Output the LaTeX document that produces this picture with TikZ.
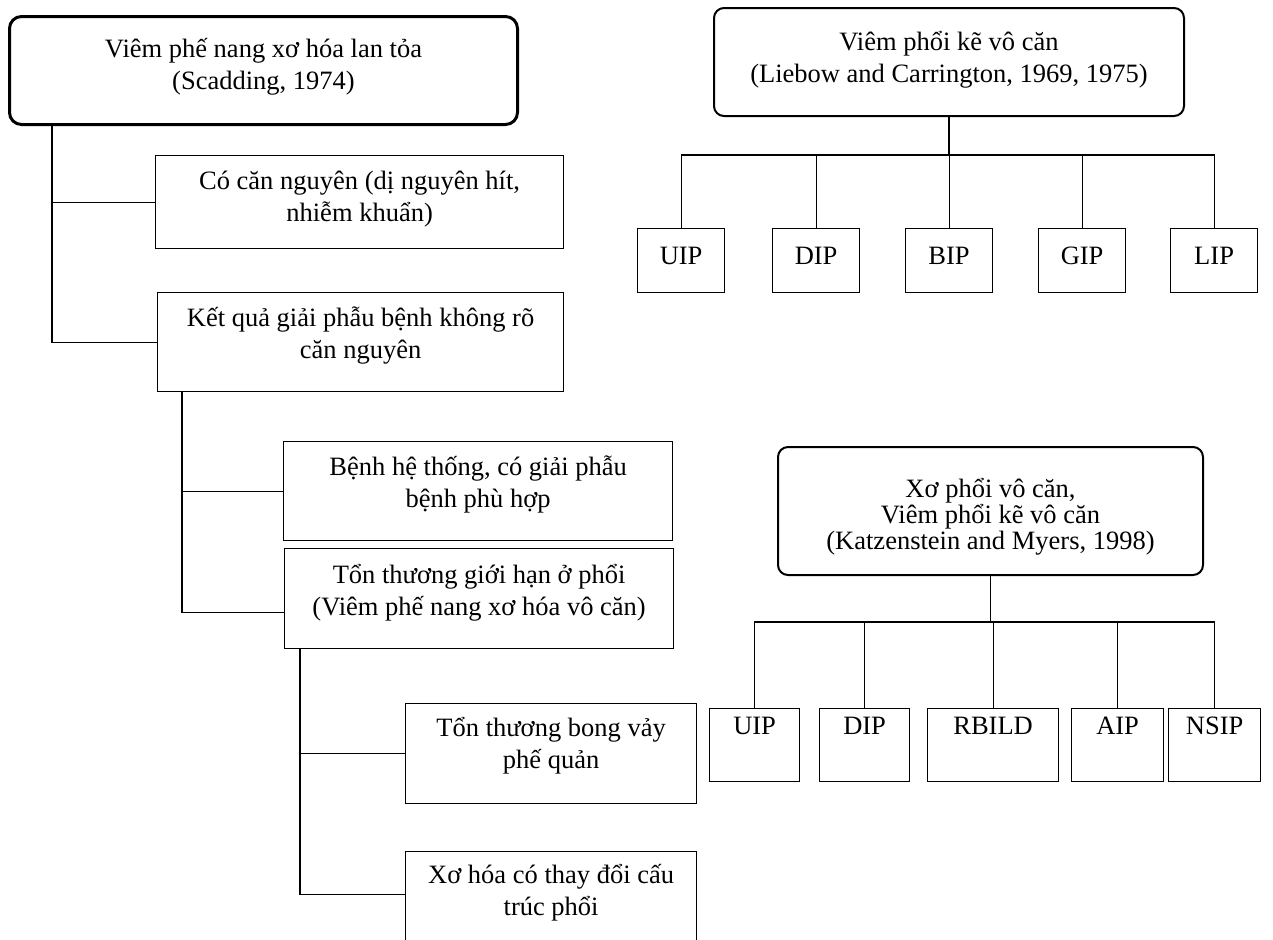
\documentclass[tikz,border=0pt]{standalone}
\usepackage{fontspec}
\setmainfont{Liberation Serif}
\usepackage{tikz}

\begin{document}
\begin{tikzpicture}[
    x=0.5pt, y=-0.5pt,
    font=\fontsize{13.25pt}{16pt}\selectfont,
    every node/.style={inner sep=0pt, align=center},
    box/.style={draw, line width=0.6pt, anchor=north west, text height=33pt, text depth=16.5pt},
    rootbox/.style={draw, rounded corners=5pt, line width=1pt, anchor=north west},
    leaf/.style={draw, line width=0.6pt, anchor=north west, minimum width=#1},
    line/.style={line width=0.6pt}
]
\useasboundingbox (0,0) rectangle (1273,939);

% Left tree: Scadding
\node[rootbox, line width=1.5pt, rounded corners=6pt, minimum width=254pt, text height=36.5pt, text depth=17.5pt] (scad) at (8,15) {Viêm phế nang xơ hóa lan tỏa\\(Scadding, 1974)};
\node[box, minimum width=204pt, text depth=13.5pt] (etio) at (155,155) {Có căn nguyên (dị nguyên hít,\\nhiễm khuẩn)};
\node[box, minimum width=203pt] (unk) at (157,292) {Kết quả giải phẫu bệnh không rõ\\căn nguyên};
\node[box, minimum width=194.5pt] (sys) at (283,441) {Bệnh hệ thống, có giải phẫu\\bệnh phù hợp};
\node[box, minimum width=194.5pt, text height=33.5pt] (lung) at (284,548) {Tổn thương giới hạn ở phổi\\(Viêm phế nang xơ hóa vô căn)};
\node[box, minimum width=145.5pt, text height=32.5pt, text depth=17.5pt] (desq) at (405,703) {Tổn thương bong vảy\\phế quản};
\node[box, minimum width=145.5pt, text height=32pt, text depth=18pt] (fibr) at (405,851) {Xơ hóa có thay đổi cấu\\trúc phổi};

\draw[line] ([xshift=22pt]scad.south west) |- (etio.west);
\draw[line] ([xshift=22pt]scad.south west) |- (unk.west);
\draw[line] ([xshift=12.5pt]unk.south west) |- (sys.west);
\draw[line] ([xshift=12.5pt]unk.south west) |- ([yshift=-7pt]lung.west);
\draw[line] ([xshift=8pt]lung.south west) |- (desq.west);
\draw[line] ([xshift=8pt]lung.south west) |- ([yshift=3.5pt]fibr.west);

% Top right: Liebow and Carrington
\node[rootbox, minimum width=235pt, text height=37pt, text depth=17pt] (lieb) at (713,7) {Viêm phổi kẽ vô căn\\(Liebow and Carrington, 1969, 1975)};
\coordinate (bus1) at ([yshift=-19pt]lieb.south);
\foreach \name/\x/\txt in {uipa/637/UIP, dipa/772/DIP, bipa/905/BIP, gipa/1038/GIP, lipa/1170/LIP}
  \node[leaf=43.5pt, text height=18pt, text depth=14pt] (\name) at (\x,228) {\txt};
\draw[line] (lieb.south) -- (bus1);
\foreach \name in {uipa,dipa,bipa,gipa,lipa}
  \draw[line] (bus1) -| (\name.north);

% Bottom right: Katzenstein and Myers
\node[rootbox, minimum width=212.5pt, text height=51pt, text depth=13pt, font=\fontsize{13.25pt}{13pt}\selectfont] (katz) at (777,446) {Xơ phổi vô căn,\\Viêm phổi kẽ vô căn\\(Katzenstein and Myers, 1998)};
\coordinate (bus2) at ([yshift=-23pt]katz.south);
\foreach \name/\x/\w/\txt in {uipb/709/45pt/UIP, dipb/819/45pt/DIP, rbild/927/65.5pt/RBILD, aipb/1071/46pt/AIP, nsip/1168/46pt/NSIP}
  \node[leaf=\w, text height=13pt, text depth=23.5pt] (\name) at (\x,708) {\txt};
\draw[line] (katz.south) -- (bus2);
\foreach \name in {uipb,dipb,rbild,aipb,nsip}
  \draw[line] (bus2) -| (\name.north);

\end{tikzpicture}
\end{document}
